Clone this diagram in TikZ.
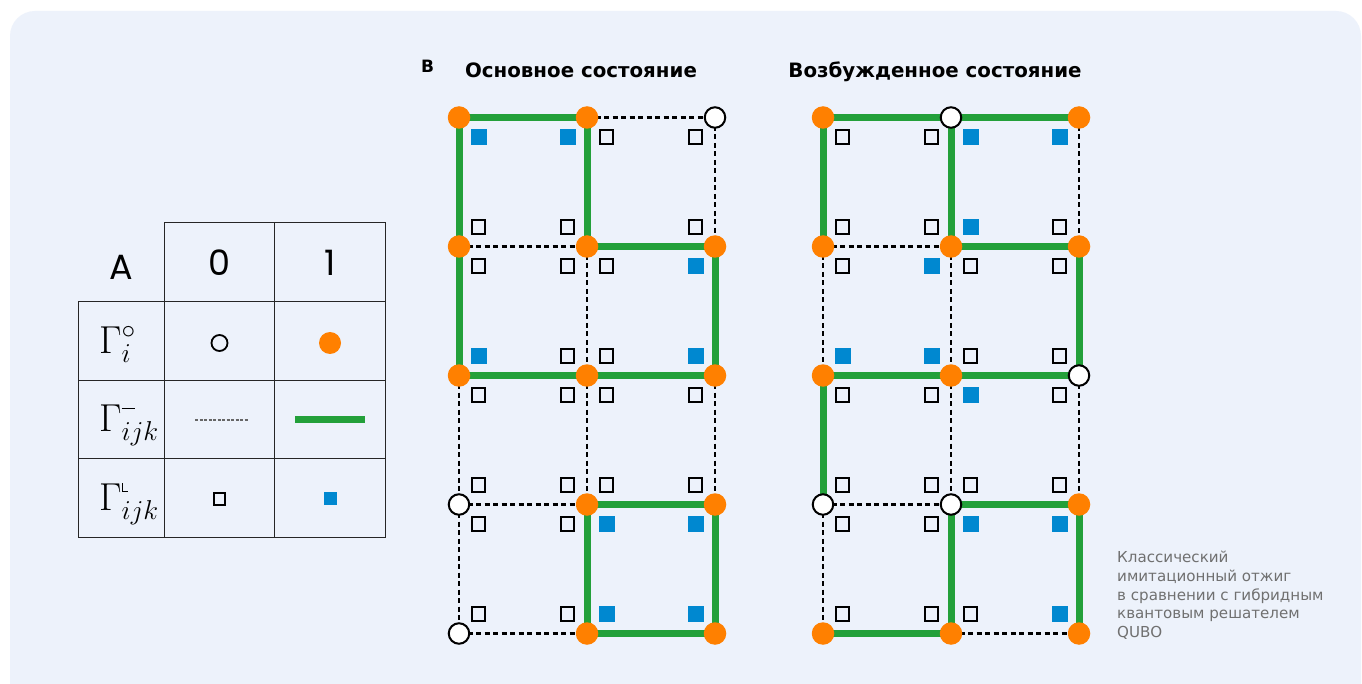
\RequirePackage{fix-cm}
\documentclass[tikz,border=0pt]{standalone}
\usepackage{fontspec}
\setmainfont{DejaVu Sans}
\newfontfamily\popfont{Poppins}
\definecolor{bgc}{RGB}{237,242,251}
\definecolor{orng}{RGB}{255,128,0}
\definecolor{grn}{RGB}{35,160,58}
\definecolor{blu}{RGB}{0,136,208}
\definecolor{capgray}{RGB}{112,112,112}
\pgfdeclarelayer{bgl}
\pgfdeclarelayer{edgel}
\pgfsetlayers{bgl,edgel,main}
\tikzset{
  onode/.style={circle, fill=orng, minimum size=22.5pt, inner sep=0pt},
  wnode/.style={circle, fill=white, draw=black, line width=2pt, minimum size=20.5pt, inner sep=0pt},
  gedge/.style={draw=grn, line width=7pt},
  dedge/.style={draw=black, line width=2.2pt, dash pattern=on 5pt off 3.5pt},
  sqB/.style={rectangle, fill=blu, minimum size=16pt, inner sep=0pt},
  sqW/.style={rectangle, draw=black, line width=1.8pt, fill=bgc, minimum size=13.5pt, inner sep=0pt},
  sqN/.style={rectangle, draw=none, fill=none, minimum size=13.5pt, inner sep=0pt},
  tcell/.style={draw=black!85, line width=1pt},
  title/.style={font=\fontsize{19.8}{24}\selectfont\bfseries, anchor=base, inner sep=0pt},
  hdr/.style={font=\popfont\fontsize{35}{40}\selectfont, inner sep=0pt},
  gam/.style={font=\fontsize{39}{41}\selectfont, anchor=base west, inner sep=0pt},
}
\begin{document}
\begin{tikzpicture}[x=1pt,y=-1pt]
\useasboundingbox (0,0) rectangle (1362,684);
\begin{pgfonlayer}{bgl}
\fill[white] (0,0) rectangle (1362,684);
\begin{scope}
\clip (0,0) rectangle (1362,684);
\fill[bgc, rounded corners=25pt] (10,11) rectangle (1361,710);
\end{scope}
\end{pgfonlayer}

% ---------- table ----------
\draw[tcell] (164,223) rectangle (274,302);
\draw[tcell] (274,223) rectangle (385,302);
\foreach \ya/\yb in {302/380,380/458,458/537}{
  \draw[tcell] (78,\ya) rectangle (164,\yb);
  \draw[tcell] (164,\ya) rectangle (274,\yb);
  \draw[tcell] (274,\ya) rectangle (385,\yb);
}
\node[hdr] (tA) at (121,267) {A};
\node[hdr] (t0) at (219,263) {0};
\node[hdr] (t1) at (330,263) {1};
\node[gam] (g1) at (99,353) {$\Gamma^{\circ}_{i}$};
\node[gam] (g2) at (99,431) {$\Gamma^{\raisebox{8pt}{\rule{13pt}{1.3pt}}}_{ijk}$};
\node[gam] (g3) at (99,510) {$\Gamma^{\raisebox{4pt}{\rule{1.2pt}{9pt}\rule{5pt}{1.2pt}}}_{ijk}$};
\node[circle, draw=black, line width=1.8pt, fill=bgc, minimum size=16pt, inner sep=0pt] (tw) at (219.5,343) {};
\node[circle, fill=orng, minimum size=22pt, inner sep=0pt] (to) at (330,343) {};
\coordinate (td1) at (195,420);
\coordinate (td2) at (248,420);
\draw[black!60, line width=1.1pt, dash pattern=on 3pt off 1.5pt] (td1) -- (td2);
\coordinate (tg1) at (295,419);
\coordinate (tg2) at (365,419);
\draw[grn, line width=7pt] (tg1) -- (tg2);
\node[rectangle, draw=black, line width=1.8pt, minimum size=11.5pt, inner sep=0pt] (tsw) at (219.5,499) {};
\node[rectangle, fill=blu, minimum size=13pt, inner sep=0pt] (tsb) at (330,498) {};

% ---------- titles ----------
\node[font=\fontsize{17}{20}\selectfont\bfseries, anchor=base, inner sep=0pt] (lb) at (427.5,72.5) {В};
\node[title] (tl) at (581,78) {Основное состояние};
\node[title] (tr) at (935,78) {Возбужденное состояние};

% ---------- grid nodes ----------
\foreach \n/\x/\y/\s in {
  L00/459/117.5/onode, L01/587/117.5/onode, L02/715/117.5/wnode,
  L10/459/246.5/onode, L11/587/246.5/onode, L12/715/246.5/onode,
  L20/459/375.5/onode, L21/587/375.5/onode, L22/715/375.5/onode,
  L30/459/504.5/wnode, L31/587/504.5/onode, L32/715/504.5/onode,
  L40/459/633.5/wnode, L41/587/633.5/onode, L42/715/633.5/onode,
  R00/823/117.5/onode, R01/951/117.5/wnode, R02/1079/117.5/onode,
  R10/823/246.5/onode, R11/951/246.5/onode, R12/1079/246.5/onode,
  R20/823/375.5/onode, R21/951/375.5/onode, R22/1079/375.5/wnode,
  R30/823/504.5/wnode, R31/951/504.5/wnode, R32/1079/504.5/onode,
  R40/823/633.5/onode, R41/951/633.5/onode, R42/1079/633.5/onode}
  \node[\s] (\n) at (\x,\y) {};

% ---------- edges ----------
\begin{pgfonlayer}{edgel}
\foreach \a/\b/\s in {
  L00/L01/gedge, L01/L02/dedge, L10/L11/dedge, L11/L12/gedge,
  L20/L21/gedge, L21/L22/gedge, L30/L31/dedge, L31/L32/gedge,
  L40/L41/dedge, L41/L42/gedge,
  L00/L10/gedge, L10/L20/gedge, L20/L30/dedge, L30/L40/dedge,
  L01/L11/gedge, L11/L21/dedge, L21/L31/dedge, L31/L41/gedge,
  L02/L12/dedge, L12/L22/gedge, L22/L32/dedge, L32/L42/gedge,
  R00/R01/gedge, R01/R02/gedge, R10/R11/dedge, R11/R12/gedge,
  R20/R21/gedge, R21/R22/gedge, R30/R31/dedge, R31/R32/gedge,
  R40/R41/gedge, R41/R42/dedge,
  R00/R10/gedge, R10/R20/dedge, R20/R30/gedge, R30/R40/dedge,
  R01/R11/gedge, R11/R21/dedge, R21/R31/dedge, R31/R41/gedge,
  R02/R12/dedge, R12/R22/gedge, R22/R32/dedge, R32/R42/gedge}
  \draw[\s] (\a.center) -- (\b.center);
\end{pgfonlayer}

% ---------- small squares ----------
\foreach \yy/\ta/\tb/\tc/\td in {137/B/B/W/W, 227/W/W/N/W, 266/W/W/W/B, 356/B/W/W/B,
  395/W/W/W/W, 485/W/W/W/W, 524/W/W/B/B, 614/W/W/B/B}{
  \node[sq\ta] (Lsa\yy) at (478.5,\yy) {};
  \node[sq\tb] (Lsb\yy) at (567.5,\yy) {};
  \node[sq\tc] (Lsc\yy) at (606.5,\yy) {};
  \node[sq\td] (Lsd\yy) at (695.5,\yy) {};
}
\foreach \yy/\ta/\tb/\tc/\td in {137/W/W/B/B, 227/W/W/B/W, 266/W/B/W/W, 356/B/B/W/W,
  395/W/W/B/W, 485/W/W/W/W, 524/W/W/B/B, 614/W/W/W/B}{
  \node[sq\ta] (Rsa\yy) at (842.5,\yy) {};
  \node[sq\tb] (Rsb\yy) at (931.5,\yy) {};
  \node[sq\tc] (Rsc\yy) at (970.5,\yy) {};
  \node[sq\td] (Rsd\yy) at (1059.5,\yy) {};
}

% ---------- caption ----------
\node[anchor=north west, align=left, inner sep=0pt, text=capgray,
      font=\fontsize{15.1}{18.7}\selectfont] (cap) at (1117,551)
  {Классический\\имитационный отжиг\\в сравнении с гибридным\\квантовым решателем\\QUBO};
\end{tikzpicture}
\end{document}
